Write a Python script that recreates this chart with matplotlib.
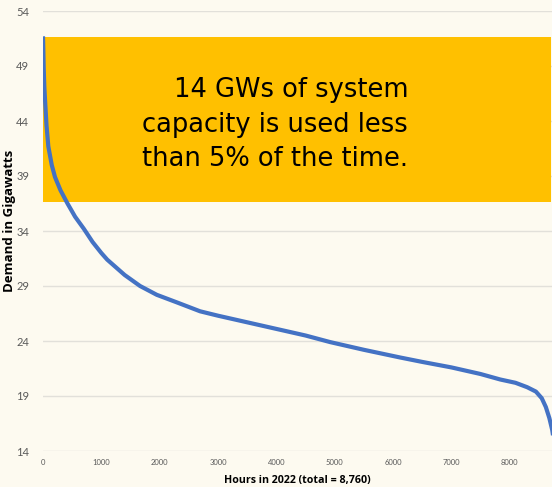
import matplotlib.pyplot as plt
from matplotlib.patches import Rectangle

# load duration curve, hours sorted by demand
hours = [0, 5, 12, 22, 34, 60, 91, 150, 206, 300, 420, 550, 700, 850, 1000,
         1100, 1400, 1664, 1950, 2300, 2693, 3000, 3500, 4000, 4500, 4923,
         5500, 6123, 6500, 7000, 7500, 7839, 8100, 8300, 8450, 8550, 8620,
         8680, 8730, 8760]
demand_gw = [51.7, 50.6, 48.8, 47.2, 46.0, 43.6, 41.7, 40.0, 38.9, 37.7,
             36.5, 35.3, 34.2, 33.0, 32.0, 31.4, 30.0, 29.0, 28.2, 27.5,
             26.7, 26.3, 25.7, 25.1, 24.5, 23.9, 23.2, 22.5, 22.1, 21.6,
             21.0, 20.5, 20.2, 19.8, 19.4, 18.8, 18.0, 17.0, 15.9, 14.8]

y_ticks = [14, 19, 24, 29, 34, 39, 44, 49, 54]
x_ticks = [0, 1000, 2000, 3000, 4000, 5000, 6000, 7000, 8000]

# peak band that is rarely used
band_low, band_high = 36.6, 51.6
note_lines = ["14 GWs of system", "capacity is used less", "than 5% of the time."]

bg = "#fdfaf0"
fig = plt.figure(figsize=(5.52, 4.87), dpi=100, facecolor=bg)
ax = fig.add_axes([43 / 552, 36 / 487, 511 / 552, 440 / 487])
ax.set_facecolor(bg)

ax.add_patch(Rectangle((0, band_low), 8715, band_high - band_low,
                       facecolor="#ffc000", edgecolor="none", zorder=1))
ax.plot(hours, demand_gw, color="#4472c4", linewidth=3.0, zorder=3,
        solid_capstyle="butt")

ax.set_xlim(0, 8760)
ax.set_ylim(14, 54)
ax.set_yticks(y_ticks)
ax.set_xticks(x_ticks)
ax.grid(axis="y", color="#e2e0da", linewidth=1.0, zorder=0)
ax.set_axisbelow(True)
for s in ax.spines.values():
    s.set_visible(False)
ax.tick_params(length=0)
ax.tick_params(axis="y", pad=10, labelsize=8, labelcolor="#595959")
ax.tick_params(axis="x", pad=6, labelsize=5.5, labelcolor="#595959")
for lab in ax.get_xticklabels() + ax.get_yticklabels():
    lab.set_fontfamily("Lato")

for i, line in enumerate(note_lines):
    ax.text(6260, 46.15 - i * 3.12, line, ha="right", va="baseline",
            fontsize=18.5, family="DejaVu Sans", color="black", zorder=4)

fig.text(297 / 552, 1 - 481 / 487, "Hours in 2022 (total = 8,760)",
         ha="center", va="center", fontsize=7.7, fontweight="bold",
         family="Open Sans", color="black")
fig.text(10 / 552, 1 - 221 / 487, "Demand in Gigawatts", rotation=90,
         ha="center", va="center", fontsize=9.5, fontweight="bold",
         family="Open Sans", color="black")

fig.savefig("out.png", dpi=100, facecolor=bg)
